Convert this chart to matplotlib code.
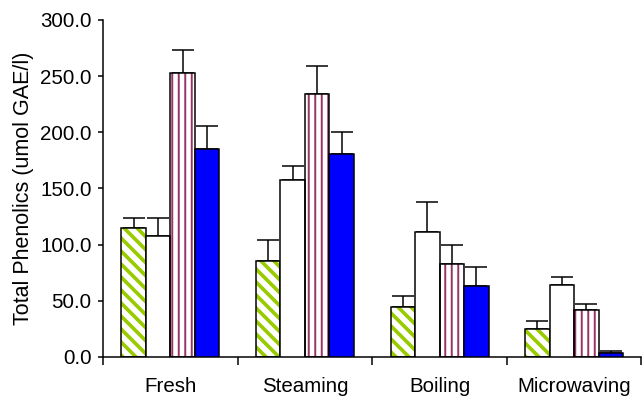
import matplotlib
matplotlib.use("Agg")
import matplotlib.pyplot as plt
import numpy as np

categories = ["Fresh", "Steaming", "Boiling", "Microwaving"]
s1 = [115.0, 85.7, 44.8, 25.0]
s1_err = [8.4, 18.3, 9.8, 7.3]
s2 = [108.0, 157.6, 111.0, 64.4]
s2_err = [15.4, 12.4, 26.7, 7.1]
s3 = [252.5, 234.0, 83.0, 41.8]
s3_err = [20.5, 25.0, 17.0, 5.7]
s4 = [185.0, 181.0, 63.2, 3.9]
s4_err = [20.6, 19.5, 16.8, 1.7]
yticks = [0, 50, 100, 150, 200, 250, 300]

DPI = 78
W, H = 643, 397
plt.rcParams['font.family'] = ['Liberation Sans', 'DejaVu Sans']
fs = 20.5 * 72 / DPI

fig = plt.figure(figsize=(W / DPI, H / DPI), dpi=DPI)
ax = fig.add_axes([103 / W, 1 - 357 / H, (641.5 - 103) / W, (357 - 20) / H])

x = np.arange(len(categories)) + 0.5
bw = 0.182
offs = [-1.5, -0.5, 0.5, 1.5]
lw = 1.4

green = '#99cc00'
plum = '#993366'
blue = '#0000ff'

series = [(s1, s1_err), (s2, s2_err), (s3, s3_err), (s4, s4_err)]

# series 1: green diagonal hatch
with plt.rc_context({'hatch.linewidth': 3.4}):
    ax.bar(x + offs[0] * bw, s1, bw, facecolor='white', edgecolor=green,
           hatch='\\\\', linewidth=0, zorder=2)
ax.bar(x + offs[0] * bw, s1, bw, facecolor='none', edgecolor='black',
       linewidth=lw, zorder=3)
# series 2: white
ax.bar(x + offs[1] * bw, s2, bw, facecolor='white', edgecolor='black',
       linewidth=lw, zorder=3)
# series 3: plum vertical stripes
with plt.rc_context({'hatch.linewidth': 1.8}):
    ax.bar(x + offs[2] * bw, s3, bw, facecolor='white', edgecolor=plum,
           hatch='||', linewidth=0, zorder=2)
ax.bar(x + offs[2] * bw, s3, bw, facecolor='none', edgecolor='black',
       linewidth=lw, zorder=3)
# series 4: blue
ax.bar(x + offs[3] * bw, s4, bw, facecolor=blue, edgecolor='black',
       linewidth=lw, zorder=3)

for i, (vals, errs) in enumerate(series):
    ax.errorbar(x + offs[i] * bw, vals, yerr=[np.zeros(len(vals)), errs],
                fmt='none', ecolor='black', elinewidth=lw, capsize=10,
                capthick=lw, zorder=1)

ax.set_xlim(0, 4)
ax.set_ylim(0, 300)
ax.set_yticks(yticks)
ax.set_yticklabels([f"{v:.1f}" for v in yticks], fontsize=fs)
ax.set_xticks(np.arange(0, 5))
ax.set_xticklabels([])
ax.set_xticks(x, minor=True)
ax.set_xticklabels(categories, minor=True, fontsize=fs)
ax.tick_params(axis='x', which='major', direction='out', length=7.5, width=lw)
ax.tick_params(axis='x', which='minor', length=0, pad=18)
ax.tick_params(axis='y', direction='out', length=4.6, width=lw, pad=6)
for s in ['top', 'right']:
    ax.spines[s].set_visible(False)
for s in ['left', 'bottom']:
    ax.spines[s].set_linewidth(lw)
ax.set_ylabel("Total Phenolics (umol GAE/l)", fontsize=fs * 1.05, labelpad=6)

fig.savefig("out.png", dpi=DPI)
